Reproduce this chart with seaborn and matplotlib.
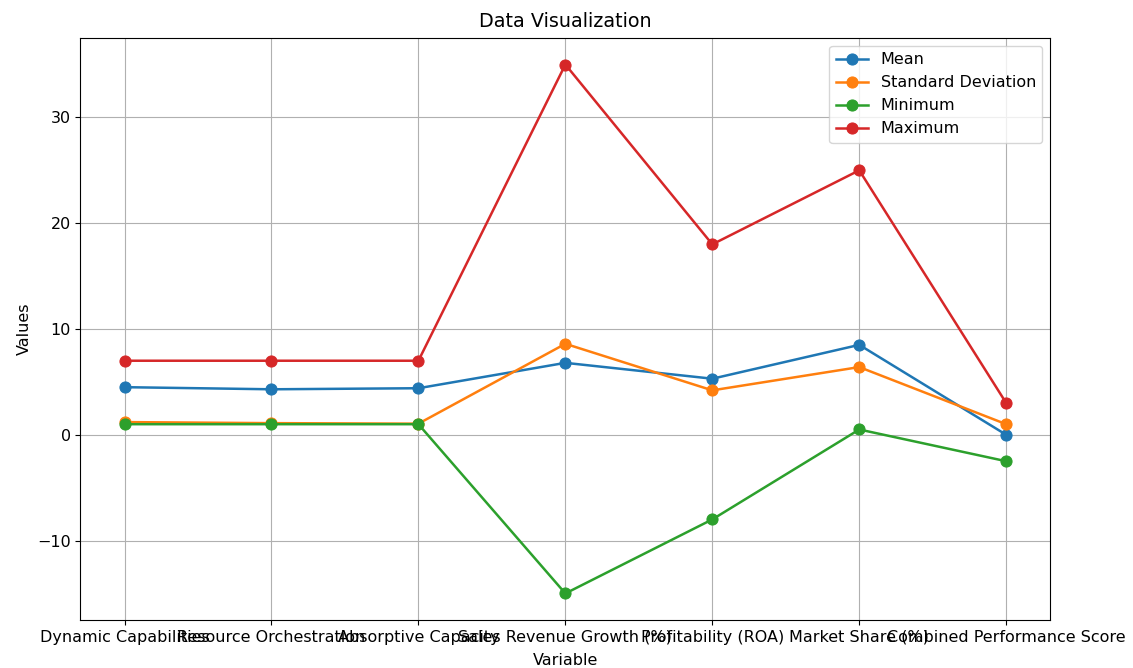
import seaborn as sns
import matplotlib.pyplot as plt
import pandas as pd

variables = ['Dynamic Capabilities', 'Resource Orchestration', 'Absorptive Capacity',
             'Sales Revenue Growth (%)', 'Profitability (ROA)', 'Market Share (%)',
             'Combined Performance Score']
mean_vals = [4.5, 4.3, 4.4, 6.8, 5.3, 8.5, 0.0]
std_vals = [1.2, 1.1, 1.05, 8.6, 4.2, 6.4, 1.0]
min_vals = [1, 1, 1, -15, -8, 0.5, -2.5]
max_vals = [7, 7, 7, 35, 18, 25, 3]

series = {'Mean': mean_vals, 'Standard Deviation': std_vals,
          'Minimum': min_vals, 'Maximum': max_vals}
colors = ['#1f77b4', '#ff7f0e', '#2ca02c', '#d62728']

plt.rcParams['font.size'] = 11.5

fig, ax = plt.subplots(figsize=(11.33, 6.68), dpi=100)
fig.subplots_adjust(left=0.071, right=0.927, top=0.943, bottom=0.072)

for (name, vals), c in zip(series.items(), colors):
    df = pd.DataFrame({'Variable': variables, 'Values': vals})
    sns.lineplot(data=df, x='Variable', y='Values', marker='o', color=c,
                 markeredgecolor=c, markersize=8, linewidth=1.8,
                 label=name, ax=ax, sort=False)

ax.set_title('Data Visualization', pad=8)
ax.set_xlabel('Variable', labelpad=6)
ax.set_ylabel('Values')
ax.grid(True)
ax.legend(loc='upper right')

plt.savefig('out.png')
